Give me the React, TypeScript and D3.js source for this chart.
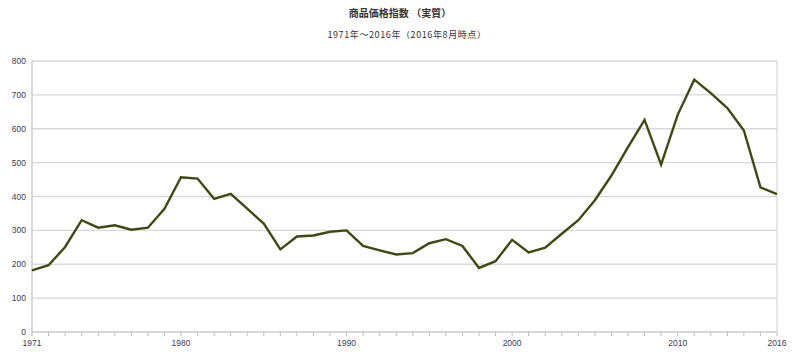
import React from "react";
import * as d3 from "d3";

const years: number[] = d3.range(1971, 2017);
const values: number[] = [
  182, 197, 251, 330, 308, 315, 302, 308, 364, 457,
  453, 393, 408, 364, 320, 244, 282, 285, 296, 300,
  254, 241, 229, 233, 262, 274, 254, 189, 209, 272,
  235, 249, 290, 330, 389, 462, 546, 626, 494, 641,
  745, 705, 661, 595, 427, 407,
];
const yTicks: number[] = [0, 100, 200, 300, 400, 500, 600, 700, 800];
const xLabels: number[] = [1971, 1980, 1990, 2000, 2010, 2016];
const title = "商品価格指数 （実質）";
const subtitle = "1971年～2016年（2016年8月時点）";

export default function App() {
  const W = 800, H = 355;
  const left = 32, right = 777, top = 61, bottom = 332;
  const x = d3.scaleLinear().domain([1971, 2016]).range([left, right]);
  const y = d3.scaleLinear().domain([0, 800]).range([bottom, top]);
  const line = d3
    .line<number>()
    .x((_, i) => x(years[i]))
    .y((d) => y(d));
  const font = "'Liberation Sans', Arial, sans-serif";
  const cjk = "'Noto Sans CJK JP', sans-serif";
  return (
    <svg
      width={W}
      height={H}
      style={{ position: "absolute", left: 0, top: 0, background: "#fff" }}
    >
      <text x={400} y={17} textAnchor="middle" fontSize={10} fontWeight="bold" fontFamily={cjk} fill="#333">
        {title}
      </text>
      <text x={407} y={37.5} textAnchor="middle" fontSize={9} letterSpacing={0.6} fontFamily={cjk} fill="#333">
        {subtitle}
      </text>
      {yTicks.map((t) => (
        <g key={t}>
          {t > 0 && (
            <line x1={left} x2={right} y1={y(t)} y2={y(t)} stroke="#d9d9d9" strokeWidth={1.3} />
          )}
          <text x={left - 6} y={y(t) + 3} textAnchor="end" fontSize={8.5} fontFamily={font} fill="#3a3a55">
            {t}
          </text>
        </g>
      ))}
      <line x1={right} x2={right} y1={top} y2={bottom} stroke="#d9d9d9" strokeWidth={1.3} />
      {years.map((yr) => (
        <line key={yr} x1={x(yr)} x2={x(yr)} y1={bottom} y2={bottom + 4} stroke="#bbb" strokeWidth={1} />
      ))}
      <line x1={left} x2={right} y1={bottom} y2={bottom} stroke="#ccc" strokeWidth={1.5} />
      <line x1={left} x2={left} y1={top} y2={bottom + 4} stroke="#ccc" strokeWidth={1.5} />
      {xLabels.map((yr) => (
        <text key={yr} x={x(yr)} y={bottom + 14} textAnchor="middle" fontSize={8.5} fontFamily={font} fill="#3a3a55">
          {yr}
        </text>
      ))}
      <path d={line(values) ?? ""} fill="none" stroke="#3e4a14" strokeWidth={2.4} strokeLinejoin="miter" />
    </svg>
  );
}
